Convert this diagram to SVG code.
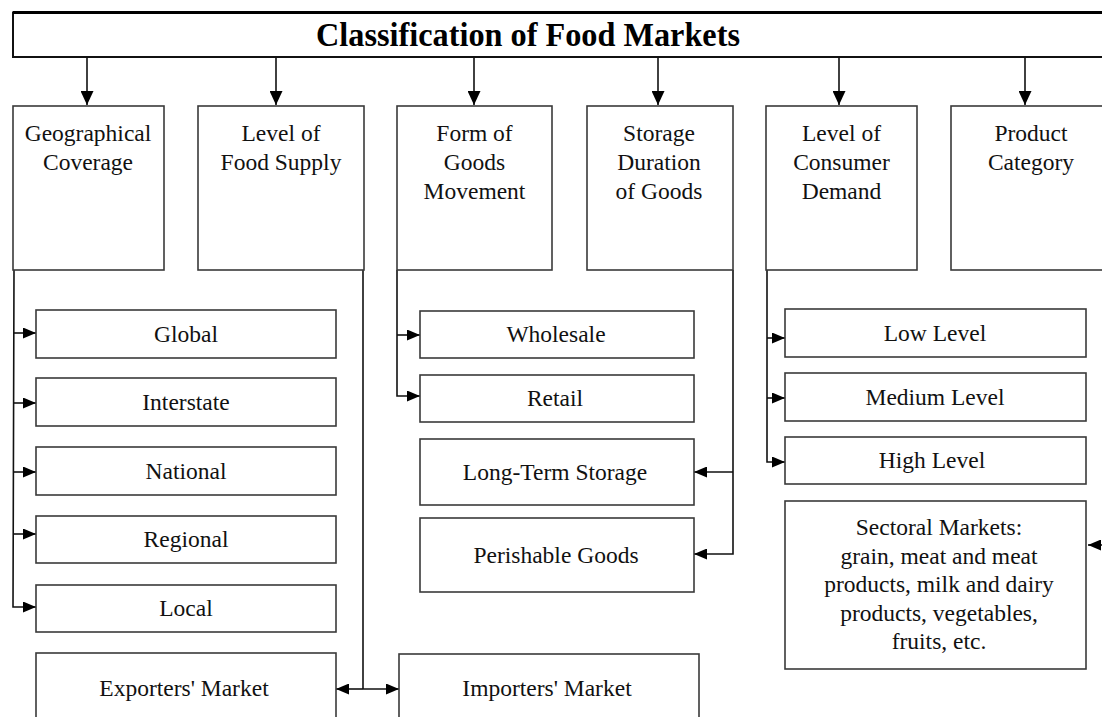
<svg xmlns="http://www.w3.org/2000/svg" width="1102" height="717" viewBox="0 0 1102 717">
<defs>
<style>
.box{fill:#fff;stroke:#3a3a3a;stroke-width:1.6}
.t{font-family:"Liberation Serif","Times New Roman",serif;font-size:23.5px;fill:#111;text-anchor:middle}
.title{font-family:"Liberation Serif","Times New Roman",serif;font-size:33px;font-weight:bold;fill:#000;text-anchor:middle}
.c{fill:none;stroke:#111;stroke-width:1.6}
</style>
<marker id="down" viewBox="0 0 14 13" refX="14" refY="6.5" markerWidth="14" markerHeight="13" markerUnits="userSpaceOnUse" orient="auto"><path d="M0,0 L14,6.5 L0,13 Z" fill="#000"/></marker>
<marker id="side" viewBox="0 0 13 11" refX="13" refY="5.5" markerWidth="13" markerHeight="11" markerUnits="userSpaceOnUse" orient="auto"><path d="M0,0 L13,5.5 L0,11 Z" fill="#000"/></marker>
</defs>
<rect width="1102" height="717" fill="#fff"/>

<g id="title">
<rect x="13" y="12.5" width="1100" height="44.5" fill="#fff" stroke="#111" stroke-width="2"/>
<line x1="13" y1="12.5" x2="1102" y2="12.5" stroke="#000" stroke-width="3"/>
<text class="title" x="528" y="46" textLength="424" lengthAdjust="spacingAndGlyphs">Classification of Food Markets</text>
</g>

<g id="connectors">
<line class="c" x1="87" y1="57" x2="87" y2="105" marker-end="url(#down)"/>
<line class="c" x1="276" y1="57" x2="276" y2="105" marker-end="url(#down)"/>
<line class="c" x1="474" y1="57" x2="474" y2="105" marker-end="url(#down)"/>
<line class="c" x1="658" y1="57" x2="658" y2="105" marker-end="url(#down)"/>
<line class="c" x1="839" y1="57" x2="839" y2="105" marker-end="url(#down)"/>
<line class="c" x1="1025" y1="57" x2="1025" y2="105" marker-end="url(#down)"/>

<path class="c" d="M14,270 L13,607 H36" marker-end="url(#side)"/>
<path class="c" d="M13.8,333 H36" marker-end="url(#side)"/>
<path class="c" d="M13.6,403 H36" marker-end="url(#side)"/>
<path class="c" d="M13.4,472 H36" marker-end="url(#side)"/>
<path class="c" d="M13.2,534 H36" marker-end="url(#side)"/>

<path class="c" d="M363,270 V689"/>
<path class="c" d="M363,689 H336" marker-end="url(#side)"/>
<path class="c" d="M363,689 H399" marker-end="url(#side)"/>

<path class="c" d="M397,270 V396 H420" marker-end="url(#side)"/>
<path class="c" d="M397,335 H420" marker-end="url(#side)"/>

<path class="c" d="M733,270 V554 H694" marker-end="url(#side)"/>
<path class="c" d="M733,472 H694" marker-end="url(#side)"/>

<path class="c" d="M767,270 V462 H785" marker-end="url(#side)"/>
<path class="c" d="M767,338 H785" marker-end="url(#side)"/>
<path class="c" d="M767,398 H785" marker-end="url(#side)"/>

<path class="c" d="M1112,545 H1088" marker-end="url(#side)"/>
</g>

<g id="geo"><rect class="box" x="13" y="106" width="151" height="164"/>
<text class="t" x="88" y="141">Geographical</text><text class="t" x="88" y="170">Coverage</text></g>
<g id="supply"><rect class="box" x="198" y="106" width="166" height="164"/>
<text class="t" x="281" y="141">Level of</text><text class="t" x="281" y="170">Food Supply</text></g>
<g id="movement"><rect class="box" x="397" y="106" width="155" height="164"/>
<text class="t" x="474.5" y="141">Form of</text><text class="t" x="474.5" y="170">Goods</text><text class="t" x="474.5" y="199">Movement</text></g>
<g id="storage"><rect class="box" x="587" y="106" width="146" height="164"/>
<text class="t" x="659" y="141">Storage</text><text class="t" x="659" y="170">Duration</text><text class="t" x="659" y="199">of Goods</text></g>
<g id="demand"><rect class="box" x="766" y="106" width="151" height="164"/>
<text class="t" x="841.5" y="141">Level of</text><text class="t" x="841.5" y="170">Consumer</text><text class="t" x="841.5" y="199">Demand</text></g>
<g id="product"><rect class="box" x="951" y="106" width="162" height="164"/>
<text class="t" x="1031" y="141">Product</text><text class="t" x="1031" y="170">Category</text></g>

<g id="global"><rect class="box" x="36" y="310" width="300" height="48"/><text class="t" x="186" y="342">Global</text></g>
<g id="interstate"><rect class="box" x="36" y="378" width="300" height="48"/><text class="t" x="186" y="410">Interstate</text></g>
<g id="national"><rect class="box" x="36" y="447" width="300" height="48"/><text class="t" x="186" y="479">National</text></g>
<g id="regional"><rect class="box" x="36" y="516" width="300" height="47"/><text class="t" x="186" y="547">Regional</text></g>
<g id="local"><rect class="box" x="36" y="585" width="300" height="47"/><text class="t" x="186" y="616">Local</text></g>
<g id="exporters"><rect class="box" x="36" y="653" width="300" height="80"/><text class="t" x="184" y="696">Exporters' Market</text></g>

<g id="wholesale"><rect class="box" x="420" y="311" width="274" height="47"/><text class="t" x="556" y="342">Wholesale</text></g>
<g id="retail"><rect class="box" x="420" y="375" width="274" height="47"/><text class="t" x="555" y="406">Retail</text></g>
<g id="longterm"><rect class="box" x="420" y="439" width="274" height="66"/><text class="t" x="555" y="480">Long-Term Storage</text></g>
<g id="perishable"><rect class="box" x="420" y="518" width="274" height="74"/><text class="t" x="556" y="563">Perishable Goods</text></g>
<g id="importers"><rect class="box" x="399" y="654" width="300" height="80"/><text class="t" x="547" y="696">Importers' Market</text></g>

<g id="low"><rect class="box" x="785" y="309" width="301" height="48"/><text class="t" x="935" y="341">Low Level</text></g>
<g id="medium"><rect class="box" x="785" y="373" width="301" height="48"/><text class="t" x="935" y="405">Medium Level</text></g>
<g id="high"><rect class="box" x="785" y="437" width="301" height="47"/><text class="t" x="932" y="468">High Level</text></g>
<g id="sectoral"><rect class="box" x="785" y="501" width="301" height="168"/>
<text class="t" x="939" y="535">Sectoral Markets:</text>
<text class="t" x="939" y="564">grain, meat and meat</text>
<text class="t" x="939" y="592">products, milk and dairy</text>
<text class="t" x="939" y="621">products, vegetables,</text>
<text class="t" x="939" y="649">fruits, etc.</text></g>
</svg>
